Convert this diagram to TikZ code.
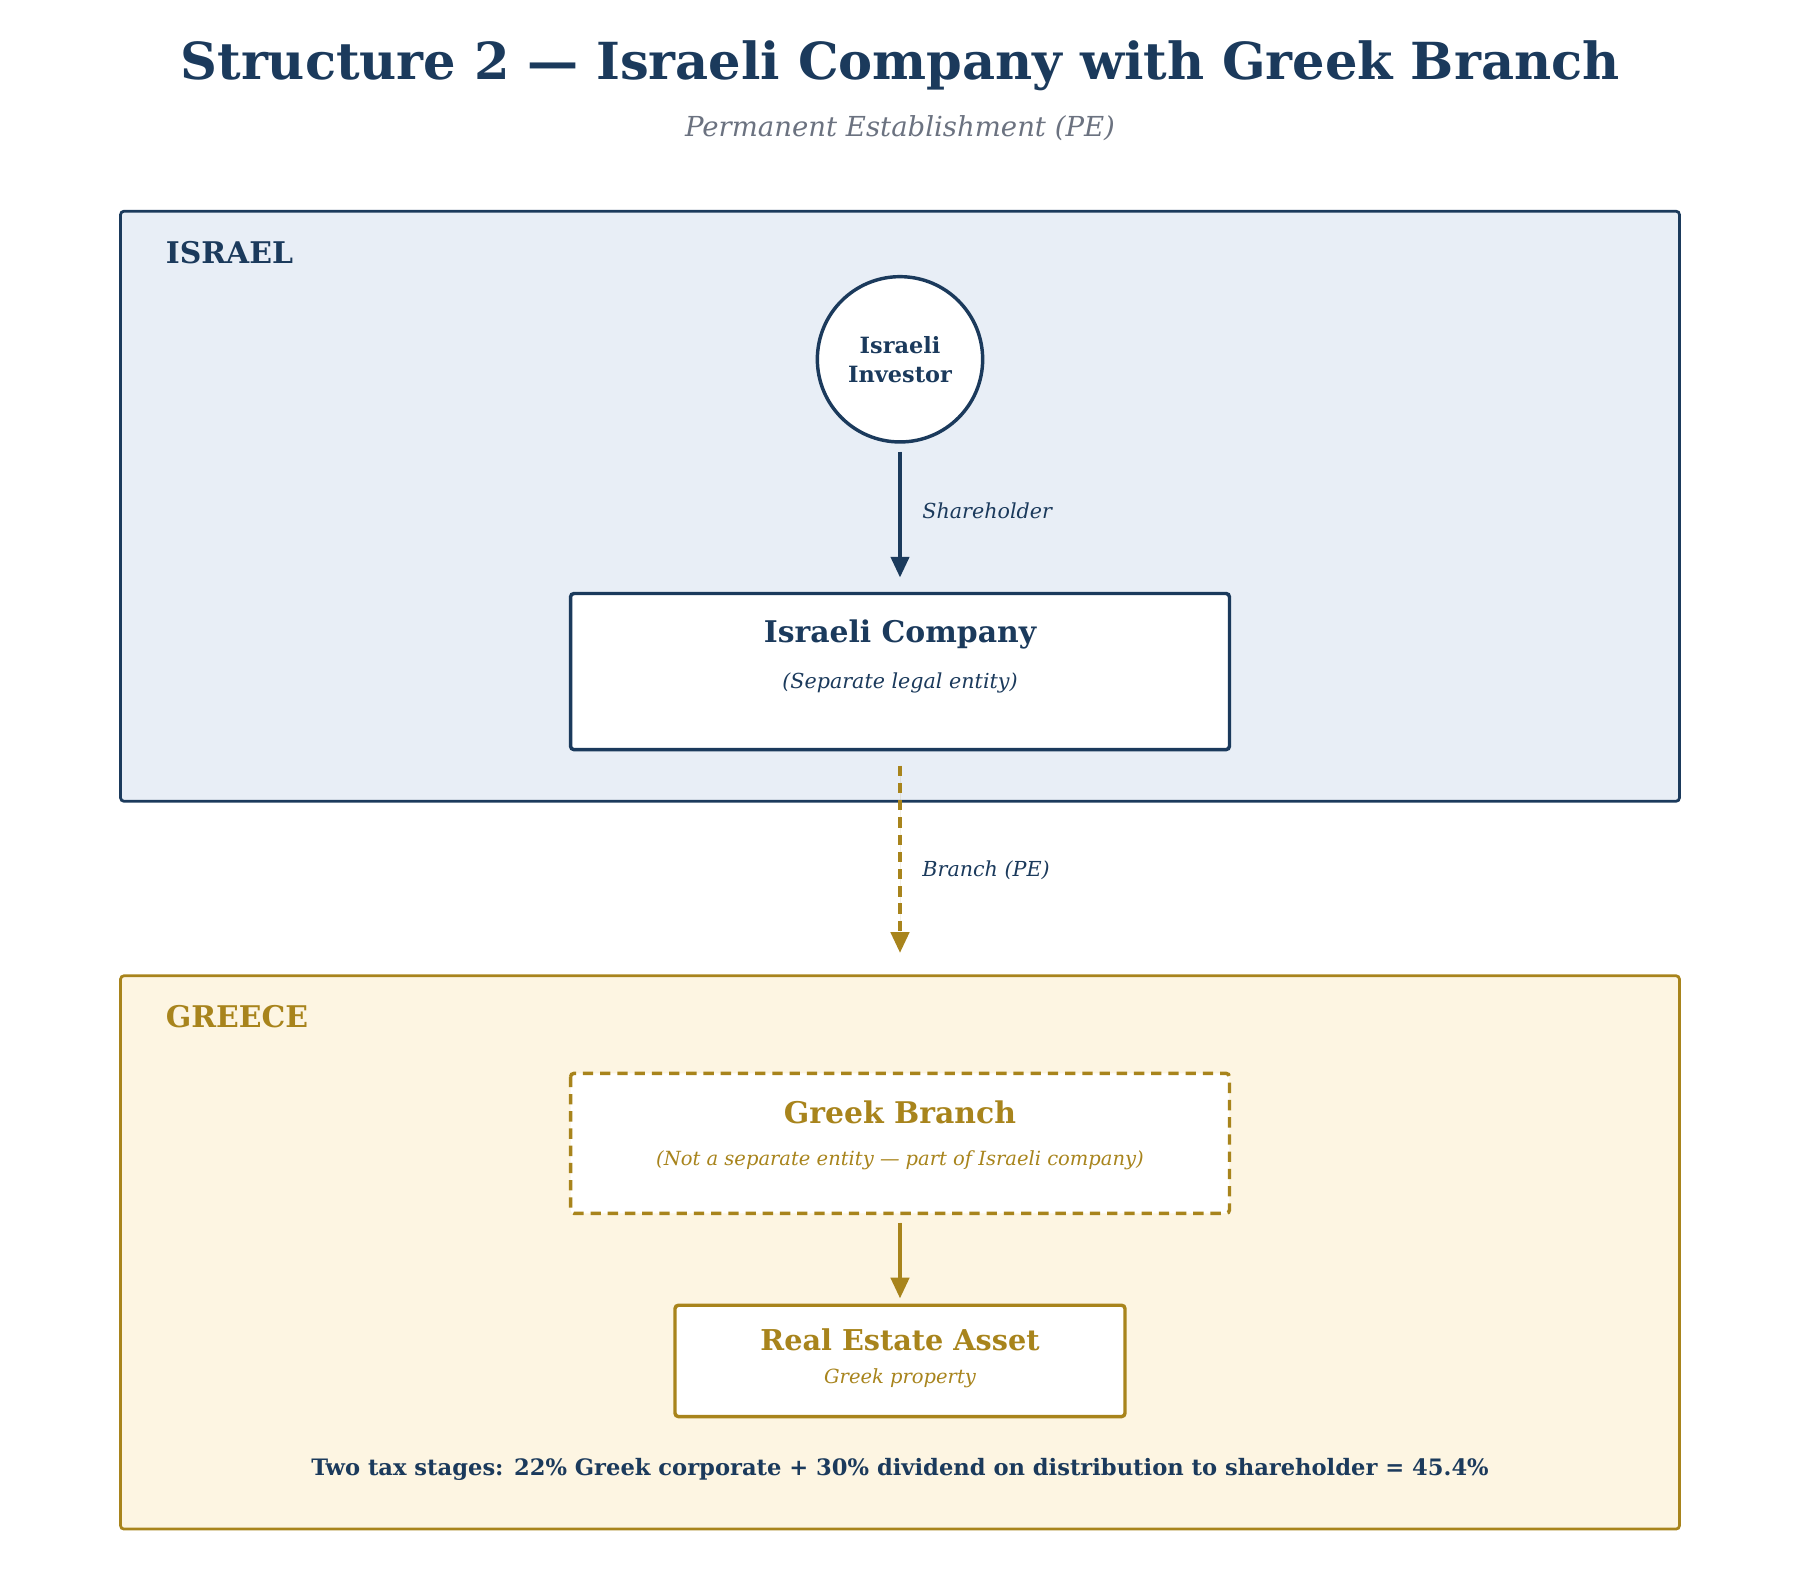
\documentclass[tikz,border=0pt]{standalone}
\usepackage{fontspec}
\setmainfont{DejaVu Serif}
\usetikzlibrary{arrows.meta}
\definecolor{navy}{HTML}{1B3A5C}
\definecolor{gold}{HTML}{A8841C}
\definecolor{lblue}{HTML}{E8EEF6}
\definecolor{lgold}{HTML}{FDF5E2}
\definecolor{gray}{HTML}{6B7280}
\begin{document}
\begin{tikzpicture}[x=1pt,y=-1pt,
  region/.style={draw, line width=2.4pt, rounded corners=3pt},
  ent/.style={draw, fill=white, line width=3pt, rounded corners=3pt},
  arr/.style={line width=3pt, -{Triangle[length=18pt,width=16pt]}},
  lbl/.style={anchor=west, font=\fontsize{18}{21}\selectfont\itshape, text=navy},
  big/.style={font=\fontsize{26}{30}\selectfont\bfseries},
  small/.style={font=\fontsize{17}{20}\selectfont\itshape}]
\useasboundingbox (0,0) rectangle (1568,1372);
\node[text=navy, font=\fontsize{44.5}{50}\selectfont\bfseries] (title) at (784,57) {Structure 2 — Israeli Company with Greek Branch};
\node[text=gray, font=\fontsize{24}{28}\selectfont\itshape] (sub) at (784,112) {Permanent Establishment (PE)};
% Israel
\draw[region, draw=navy, fill=lblue] (105,184) rectangle (1463,698);
\node[anchor=west, text=navy, big] (il) at (141,220) {ISRAEL};
\node[circle, draw=navy, fill=white, line width=3pt, minimum size=144pt, inner sep=0pt, align=center, text=navy, font=\fontsize{19.5}{25}\selectfont\bfseries] (inv) at (784,313) {Israeli\\Investor};
\draw[ent, draw=navy] (497,517) rectangle (1071,653);
\coordinate (co) at (784,503);
\node[text=navy, big] (cot) at (784,553) {Israeli Company};
\node[text=navy, font=\fontsize{18}{21}\selectfont\itshape] (cos) at (784,595) {(Separate legal entity)};
\draw[arr, draw=navy, fill=navy] ([yshift=-7pt]inv.south) -- (co);
\node[lbl] (sh) at (800,445) {Shareholder};
% Greece
\draw[region, draw=gold, fill=lgold] (105,850) rectangle (1463,1332);
\node[anchor=west, text=gold, big] (gr) at (141,886) {GREECE};
\coordinate (cob) at (784,667);
\coordinate (grt) at (784,830);
\draw[arr, draw=gold, fill=gold, dash pattern=on 9pt off 6pt] (cob) -- (grt);
\node[lbl] (br) at (800,758) {Branch (PE)};
\draw[ent, draw=gold, dash pattern=on 9pt off 6pt] (497,935) rectangle (1071,1057);
\node[text=gold, big] (gbt) at (784,969) {Greek Branch};
\node[text=gold, small] (gbs) at (784,1011) {(Not a separate entity — part of Israeli company)};
\draw[ent, draw=gold] (588,1137) rectangle (980,1234);
\node[text=gold, font=\fontsize{25}{29}\selectfont\bfseries] (ret) at (784,1167) {Real Estate Asset};
\node[text=gold, small] (res) at (784,1201) {Greek property};
\coordinate (gbb) at (784,1065);
\coordinate (ret0) at (784,1131);
\draw[arr, draw=gold, fill=gold] (gbb) -- (ret0);
\node[text=navy, font=\fontsize{19.7}{23}\selectfont\bfseries] (note) at (784,1280) {Two tax stages: 22\% Greek corporate + 30\% dividend on distribution to shareholder = 45.4\%};
\end{tikzpicture}
\end{document}
